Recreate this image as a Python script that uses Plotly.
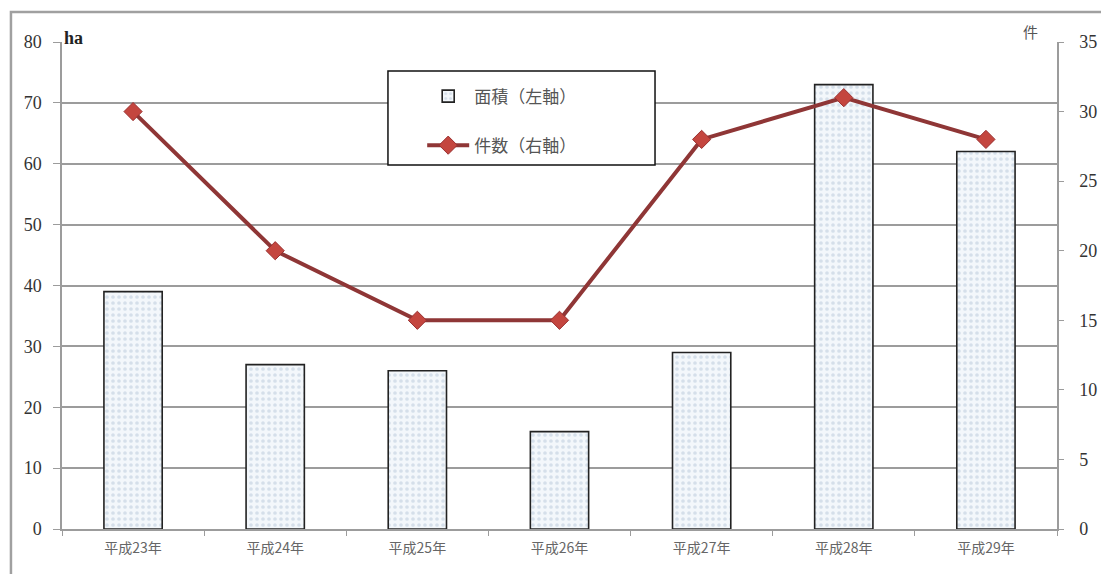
import plotly.graph_objects as go

# 年次別の面積（ha）と件数
years = ["平成23年", "平成24年", "平成25年", "平成26年", "平成27年", "平成28年", "平成29年"]
area_ha = [39, 27, 26, 16, 29, 73, 62]
counts = [30, 20, 15, 15, 28, 31, 28]
left_ticks = [0, 10, 20, 30, 40, 50, 60, 70, 80]
right_ticks = [0, 5, 10, 15, 20, 25, 30, 35]

serif = "Liberation Serif"
jp = "Noto Sans CJK JP"

fig = go.Figure()

fig.add_trace(go.Bar(
    x=years, y=area_ha, name="面積（左軸）",
    width=0.41,
    marker=dict(
        color="#f3f7fb",
        line=dict(color="#222222", width=1.6),
        pattern=dict(shape=".", fgcolor="#b7c8da", bgcolor="#f3f7fb", size=6, solidity=0.3),
    ),
    legendgroup="a",
))

fig.add_trace(go.Scatter(
    x=years, y=counts, name="件数（右軸）", yaxis="y2",
    mode="lines+markers",
    line=dict(color="#8f3636", width=4),
    marker=dict(symbol="diamond", size=14, color="#c4463f", line=dict(color="#9a3030", width=1)),
    legendgroup="b",
))

grid_col = "#9c9c9c"

fig.update_layout(
    width=1101, height=574,
    margin=dict(l=62, r=44, t=42, b=45, autoexpand=False),
    paper_bgcolor="white", plot_bgcolor="white",
    showlegend=True,
    legend=dict(
        x=0.362, y=0.925, xanchor="left", yanchor="top",
        bgcolor="rgba(0,0,0,0)", borderwidth=0,
        font=dict(family=jp, size=17, color="#555555"),
        tracegroupgap=24, traceorder="grouped",
        itemwidth=42,
    ),
    xaxis=dict(
        type="category",
        showgrid=False,
        showline=True, linecolor=grid_col, linewidth=1.5,
        ticks="outside", tickson="boundaries", ticklen=5, tickcolor=grid_col,
        tickfont=dict(family=jp, size=14, color="#666666"),
        ticklabelstandoff=5,
        automargin=False,
    ),
    yaxis=dict(
        range=[0, 80], tickvals=left_ticks,
        showgrid=True, gridcolor=grid_col, gridwidth=1.5,
        showline=True, linecolor=grid_col, linewidth=1.5,
        ticks="outside", ticklen=7, tickcolor=grid_col,
        tickfont=dict(family=serif, size=18, color="#333333"),
        ticklabelstandoff=8,
        zeroline=False,
        automargin=False,
    ),
    yaxis2=dict(
        range=[0, 35], tickvals=right_ticks,
        overlaying="y", side="right",
        showgrid=False,
        showline=True, linecolor=grid_col, linewidth=1.5,
        ticks="outside", ticklen=5, tickcolor=grid_col,
        tickfont=dict(family=serif, size=18, color="#333333"),
        ticklabelstandoff=12,
        zeroline=False,
        automargin=False,
    ),
    shapes=[
        # outer frame
        dict(type="rect", xref="paper", yref="paper",
             x0=-0.0513, x1=1.2, y0=-0.2, y1=1.0616,
             line=dict(color="#a0a0a0", width=2.5), fillcolor="rgba(0,0,0,0)", layer="below"),
        # legend box
        dict(type="rect", xref="paper", yref="paper",
             x0=0.3276, x1=0.5960, y0=0.7474, y1=0.9405,
             line=dict(color="#111111", width=1.5), fillcolor="white", layer="above"),
    ],
    annotations=[
        dict(text="<b>ha</b>", xref="paper", yref="paper", x=0.0, y=1.0,
             xanchor="left", yanchor="bottom", showarrow=False, yshift=-8,
             font=dict(family=serif, size=18, color="#222222")),
        dict(text="件", xref="paper", yref="paper", x=0.973, y=1.0,
             xanchor="center", yanchor="bottom", showarrow=False, yshift=-2,
             font=dict(family=jp, size=15, color="#555555")),
    ],
)

fig.write_html("out.html")
